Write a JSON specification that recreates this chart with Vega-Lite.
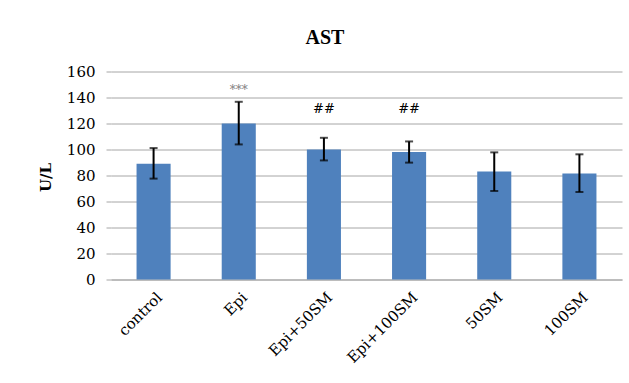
{
  "$schema": "https://vega.github.io/schema/vega-lite/v6.json",
  "width": 511,
  "height": 208,
  "autosize": {"type": "none"},
  "padding": {"left": 111, "top": 71.5, "right": 7, "bottom": 103.5},
  "background": "white",
  "title": {
    "text": "AST",
    "font": "Liberation Serif",
    "fontSize": 20,
    "fontWeight": "bold",
    "color": "black",
    "dx": -41.5,
    "offset": 17
  },
  "data": {
    "values": [
      {"group": "control", "value": 89, "lo": 77.6, "hi": 101.1, "sig": ""},
      {"group": "Epi", "value": 120, "lo": 103.9, "hi": 136.7, "sig": "***"},
      {"group": "Epi+50SM", "value": 100, "lo": 91.6, "hi": 109, "sig": "##"},
      {"group": "Epi+100SM", "value": 98, "lo": 89.9, "hi": 106.2, "sig": "##"},
      {"group": "50SM", "value": 83, "lo": 68.1, "hi": 97.8, "sig": ""},
      {"group": "100SM", "value": 81.5, "lo": 67.3, "hi": 96.3, "sig": ""}
    ]
  },
  "encoding": {
    "x": {
      "field": "group",
      "type": "nominal",
      "sort": null,
      "scale": {"paddingInner": 0.6, "paddingOuter": 0.3},
      "axis": {
        "title": null,
        "labelAngle": -45,
        "labelAlign": "right",
        "labelBaseline": "top",
        "labelPadding": 10,
        "labelOffset": 1,
        "labelFont": "DejaVu Serif",
        "labelFontSize": 15,
        "labelColor": "black",
        "labelOverlap": false,
        "ticks": false,
        "domainColor": "#a6a6a6",
        "domainWidth": 1
      }
    }
  },
  "layer": [
    {
      "mark": {"type": "bar", "color": "#4F81BD"},
      "encoding": {
        "y": {
          "field": "value",
          "type": "quantitative",
          "scale": {"domain": [0, 160], "nice": false},
          "axis": {
            "title": "U/L",
            "titleFont": "DejaVu Serif",
            "titleFontSize": 15,
            "titleFontWeight": "bold",
            "titleColor": "black",
            "titleX": -66,
            "titleY": 105.5,
            "titleAlign": "center",
            "titleBaseline": "middle"
          }
        }
      }
    },
    {
      "mark": {"type": "rule", "color": "black", "strokeWidth": 2},
      "encoding": {
        "y": {"field": "lo", "type": "quantitative"},
        "y2": {"field": "hi"}
      }
    },
    {
      "mark": {"type": "tick", "color": "black", "thickness": 2, "size": 8},
      "encoding": {"y": {"field": "lo", "type": "quantitative"}}
    },
    {
      "mark": {"type": "tick", "color": "black", "thickness": 2, "size": 8},
      "encoding": {"y": {"field": "hi", "type": "quantitative"}}
    },
    {
      "transform": [{"filter": "datum.sig == '***'"}],
      "mark": {"type": "text", "font": "DejaVu Serif", "fontSize": 12, "color": "#808080", "baseline": "middle"},
      "encoding": {
        "y": {"datum": 146},
        "text": {"field": "sig"}
      }
    },
    {
      "transform": [{"filter": "datum.sig == '##'"}],
      "mark": {"type": "text", "font": "DejaVu Serif", "fontSize": 13, "color": "black", "baseline": "middle"},
      "encoding": {
        "y": {"datum": 131},
        "text": {"field": "sig"}
      }
    }
  ],
  "config": {
    "view": {"stroke": null},
    "axisY": {
      "tickCount": 8,
      "labelFont": "DejaVu Serif",
      "labelFontSize": 15,
      "labelColor": "black",
      "labelPadding": 11,
      "labelOverlap": false,
      "labelFlush": false,
      "domain": false,
      "tickSize": 5,
      "tickColor": "#a6a6a6",
      "gridColor": "#a6a6a6",
      "grid": true
    }
  }
}
